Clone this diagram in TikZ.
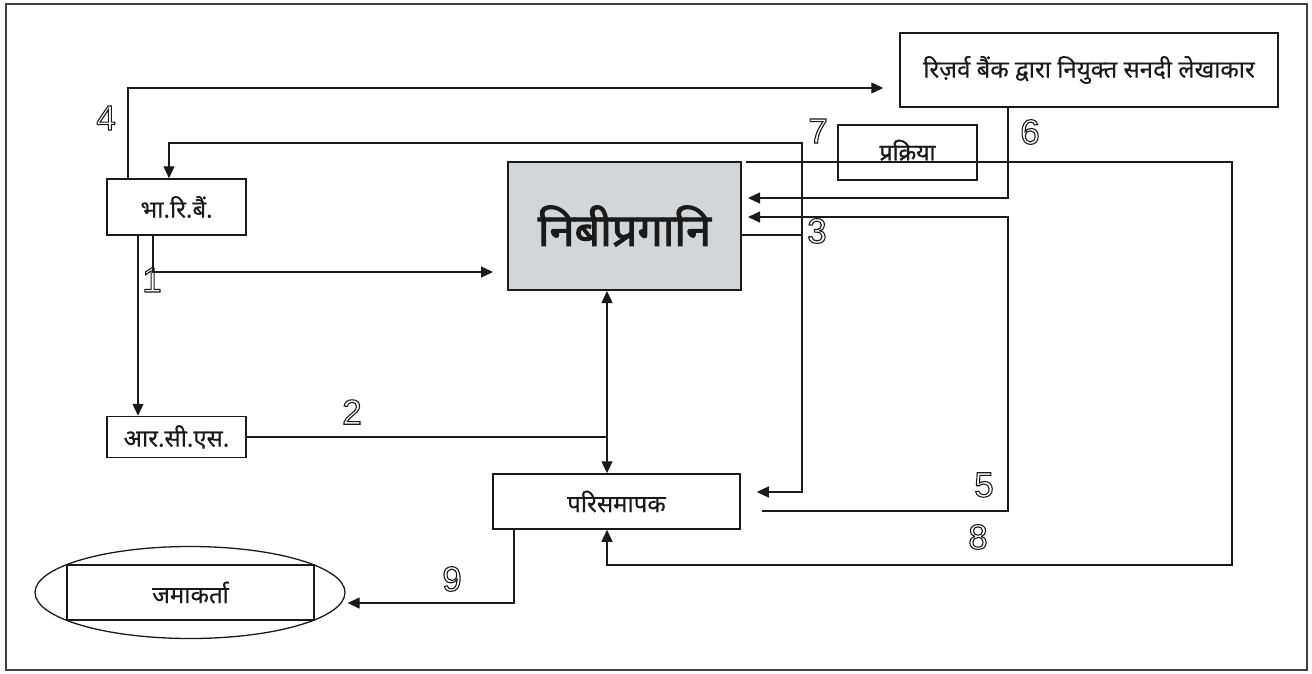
\documentclass[tikz,border=0pt]{standalone}
\usepackage{fontspec}
\setmainfont{Liberation Sans}
\newfontfamily\deva[Script=Devanagari,FakeBold=0.4]{Noto Sans}
\newfontfamily\devab[Script=Devanagari,FakeBold=2.2]{Noto Sans}
\newfontfamily\devam[Script=Devanagari,FakeBold=1.2]{Noto Sans}
\usetikzlibrary{arrows.meta,shapes.geometric,calc}
\newcommand\olnum[1]{\special{pdf:literal direct 1 Tr 1.1 w}#1\special{pdf:literal direct 0 Tr}}
\definecolor{boxgray}{HTML}{D4D5D7}
\definecolor{ink}{HTML}{1A1A1A}
\begin{document}
\begin{tikzpicture}[x=1pt,y=-1pt,line width=1.3pt,draw=ink,
  arr/.style={-{Triangle[length=12pt,width=11pt]}},
  arrboth/.style={{Triangle[length=12pt,width=11pt]}-{Triangle[length=12pt,width=11pt]}},
  box/.style={draw=ink,line width=1.5pt,rectangle,inner sep=0pt,text=ink,font=\deva\fontsize{24}{26}\selectfont},
  num/.style={font=\fontsize{35}{36}\selectfont,inner sep=0pt,text=ink}]
\useasboundingbox (0,0) rectangle (1312,673);
\draw[line width=2pt,draw=black!75] (6,4) rectangle (1307,670);

% nodes
\node[box,minimum width=139pt,minimum height=56pt] (rbi) at (176.5,207) {भा.रि.बैं.};
\node[box,minimum width=139pt,minimum height=41pt] (rcs) at (176.5,437) {आर.सी.एस.};
\node[box,line width=2pt,fill=boxgray,minimum width=233pt,minimum height=128pt,font=\devab\fontsize{45}{48}\selectfont] (nbfc) at (624.5,226) {निबीप्रगानि};
\node[box,minimum width=378pt,minimum height=74pt,font=\deva\fontsize{24}{26}\selectfont] (ca) at (1089,70) {रिज़र्व बैंक द्वारा नियुक्त सनदी लेखाकार};
\node[box,minimum width=247pt,minimum height=55pt] (liq) at (616.5,501.5) {परिसमापक};
\node[draw=ink,line width=1.3pt,ellipse,minimum width=310pt,minimum height=92pt,inner sep=0pt] (dep) at (190,592.5) {};
\node[box,line width=1.3pt,minimum width=247pt,minimum height=55pt] (depbox) at (190.5,592.5) {जमाकर्ता};

% helper coordinates
\coordinate (c7) at (802,143);
\coordinate (c5) at (1008,217);
\coordinate (c8) at (1232,565);
\coordinate (j2) at (607,437);

% process box (drawn before line 8 so the line crosses it)
\node[box,minimum width=139pt,minimum height=55pt,font=\devam\fontsize{23}{25}\selectfont] (proc) at (907.5,152.5) {\raisebox{5pt}{प्रक्रिया}};

% connectors
\draw[arr] ([xshift=-23.5pt]rbi.south) |- ([xshift=-14pt,yshift=-46pt]nbfc.west);
\draw[arr] ([xshift=-38.5pt]rbi.south) -- ([xshift=-38.5pt]rcs.north);
\draw (rcs.east) -- (j2);
\draw[arrboth] ([xshift=-17.5pt]nbfc.south) -- ([xshift=-9.5pt]liq.north);
\draw[arr] ([xshift=-48.5pt]rbi.north) |- ([xshift=-16pt,yshift=-18pt]ca.west);
\draw[arrboth] ([xshift=-7.5pt]rbi.north) |- (c7) |- ([xshift=16pt,yshift=9.5pt]liq.east);
\draw ([yshift=-9pt]nbfc.east) -- ([yshift=-9pt]nbfc.east -| c7);
\draw[arr] ([xshift=-81pt]ca.south) |- ([xshift=6pt,yshift=28pt]nbfc.east);
\draw[arr] ([xshift=21pt,yshift=-9.5pt]liq.east) -| (c5) -- ([xshift=6pt,yshift=9pt]nbfc.east);
\draw[arr] ([xshift=4pt,yshift=64pt]nbfc.east) -| (c8) -| ([xshift=-9.5pt]liq.south);
\draw[arr] ([xshift=-102.5pt]liq.south) |- ([xshift=2pt,yshift=-10.5pt]dep.east);

% step numbers
\node[num] (n1) at (152,280) {\olnum{1}};
\node[num] (n2) at (352,412) {\olnum{2}};
\node[num] (n3) at (817,231) {\olnum{3}};
\node[num] (n4) at (106,118) {\olnum{4}};
\node[num] (n5) at (984,485) {\olnum{5}};
\node[num] (n6) at (1030,132) {\olnum{6}};
\node[num] (n7) at (818,131) {\olnum{7}};
\node[num] (n8) at (978,537) {\olnum{8}};
\node[num] (n9) at (452,579) {\olnum{9}};
\end{tikzpicture}
\end{document}
